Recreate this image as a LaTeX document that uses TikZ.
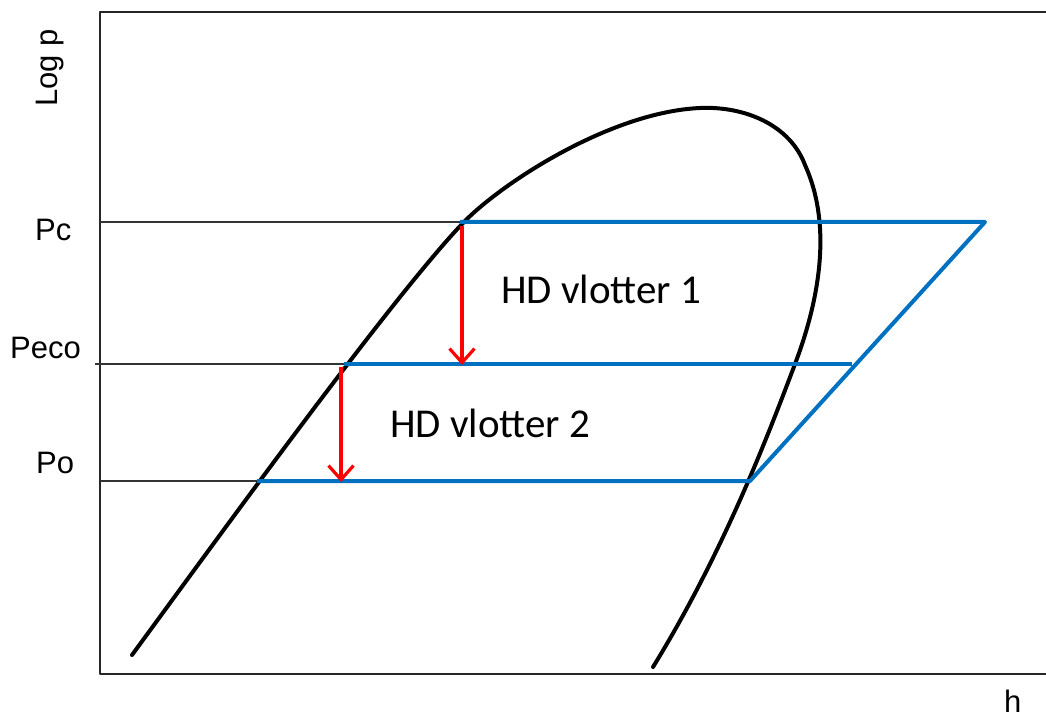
\documentclass[tikz,border=0pt]{standalone}
\usepackage{fontspec}
\setmainfont{Liberation Sans}
\newfontfamily\calib{Carlito}
\usetikzlibrary{arrows.meta}
\definecolor{lineblue}{RGB}{0,112,192}
\begin{document}
\begin{tikzpicture}[x=1pt, y=-1pt, line join=round,
  frame/.style={line width=1.6pt, black!85},
  level/.style={line width=1.2pt, black!80},
  cycle/.style={line width=4pt, lineblue},
  dome/.style={line width=4pt, black, line cap=round},
  drop/.style={line width=3.2pt, red, -{Straight Barb[length=14pt, width=25pt, line width=3.2pt]}},
  axlabel/.style={font=\fontsize{31}{36}\selectfont, anchor=base west, inner sep=0pt},
  hdlabel/.style={font=\calib\fontsize{41}{48}\selectfont, anchor=base west, inner sep=0pt}]
  \useasboundingbox (0,0) rectangle (1046,719);
  \draw[frame] (1046,12) -- (100,12) -- (100,674) -- (1046,674);
  \coordinate (pcA) at (100,222);
  \coordinate (pcB) at (460,222);
  \coordinate (pcC) at (985,222);
  \coordinate (pecoA) at (95,364);
  \coordinate (pecoB) at (344,364);
  \coordinate (pecoC) at (852,364);
  \coordinate (poA) at (100,481);
  \coordinate (poB) at (257,481);
  \coordinate (poC) at (750,481);
  \draw[level] (pcA) -- (pcB);
  \draw[level] (pecoA) -- (pecoB);
  \draw[level] (poA) -- (poB);
  \draw[dome] (132,655) .. controls (220,535) and (390,300) .. (462,224)
    .. controls (500,184) and (610,112) .. (700,108)
    .. controls (745,106) and (790,125) .. (805,165)
    .. controls (830,220) and (823,290) .. (795,364)
    .. controls (770,430) and (725,550) .. (653,667);
  \draw[cycle] (pcB) -- (pcC) -- (poC) -- (poB);
  \draw[cycle] (pecoB) -- (pecoC);
  \coordinate (v1top) at (462,226);
  \coordinate (v1bot) at (462,365);
  \coordinate (v2top) at (341,367);
  \coordinate (v2bot) at (341,482);
  \draw[drop] (v1top) -- (v1bot);
  \draw[drop] (v2top) -- (v2bot);
  \node[axlabel, rotate=90] (logp) at (57,107) {Log p};
  \node[axlabel] (pc) at (35,241) {Pc};
  \node[axlabel] (peco) at (10,358) {Peco};
  \node[axlabel] (po) at (36,473) {Po};
  \node[axlabel] (h) at (1004,712) {h};
  \node[hdlabel] (hd1) at (501,303) {HD vlotter 1};
  \node[hdlabel] (hd2) at (390,437) {HD vlotter 2};
\end{tikzpicture}
\end{document}
